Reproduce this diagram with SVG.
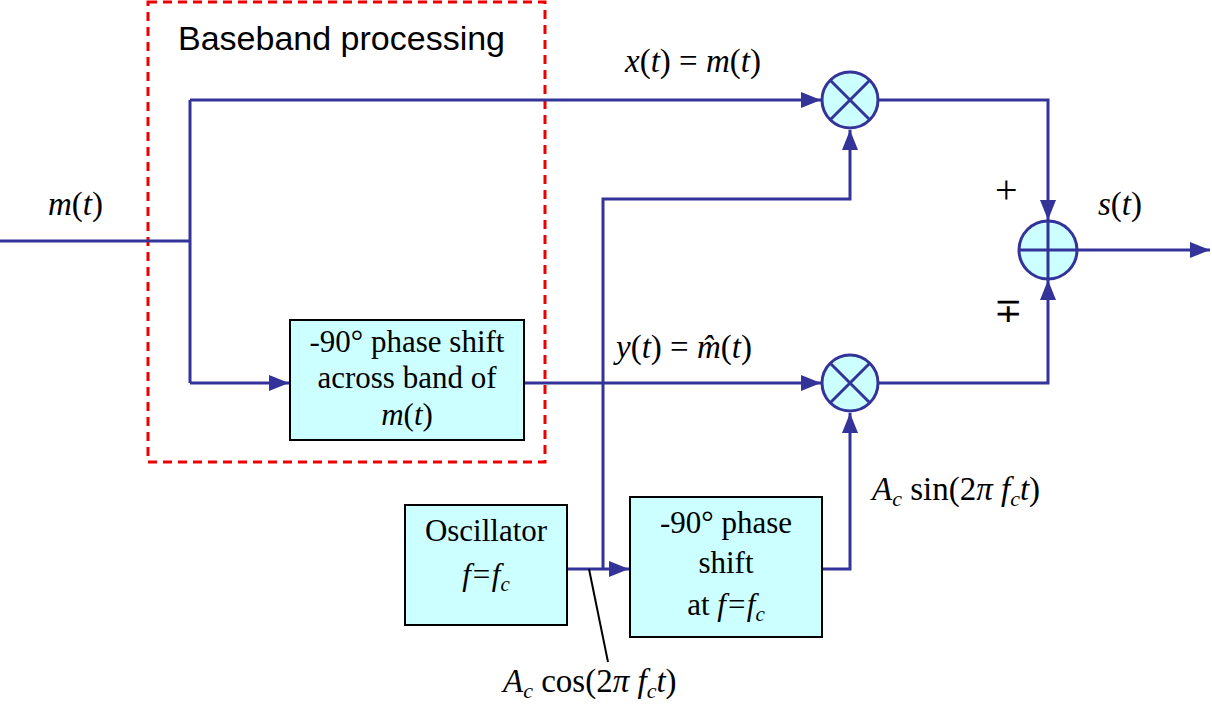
<svg xmlns="http://www.w3.org/2000/svg" width="1212" height="712" viewBox="0 0 1212 712">
<style>
.w{stroke:#333399;stroke-width:3;fill:none}
.b{fill:#ccffff;stroke:#000;stroke-width:2}
.c{fill:#ccffff;stroke:#333399;stroke-width:3}
.i{font-style:italic}
</style>
<defs>
<marker id="A" markerWidth="20" markerHeight="16" refX="20" refY="8" orient="auto" markerUnits="userSpaceOnUse"><path d="M0,0L20,8L0,16z" fill="#333399"/></marker></defs>
<rect x="148" y="2" width="397" height="460" fill="none" stroke="#e00" stroke-width="3" stroke-dasharray="9,6"/>
<text x="178" y="50" font-family="'Liberation Sans',sans-serif" font-size="34">Baseband processing</text>
<g id="connectors">
<path class="w" d="M0,241H190M190,100V383"/>
<path class="w" d="M190,100H821" marker-end="url(#A)"/>
<path class="w" d="M190,383H289" marker-end="url(#A)"/>
<path class="w" d="M524,383H821" marker-end="url(#A)"/>
<path class="w" d="M567,569H629" marker-end="url(#A)"/>
<path class="w" d="M603,569V199H850V130" marker-end="url(#A)"/>
<path class="w" d="M822,569H850V413" marker-end="url(#A)"/>
<path class="w" d="M878,100H1048V220" marker-end="url(#A)"/>
<path class="w" d="M878,383H1048V280" marker-end="url(#A)"/>
<path class="w" d="M1077,250H1210" marker-end="url(#A)"/>
<path d="M589,569L608,662" stroke="#000" stroke-width="2"/>
</g>
<g id="mult1"><circle class="c" cx="850" cy="100" r="28"/><path class="w" d="M830,80L870,120M870,80L830,120"/></g>
<g id="mult2"><circle class="c" cx="850" cy="383" r="28"/><path class="w" d="M830,363L870,403M870,363L830,403"/></g>
<g id="sum"><circle class="c" cx="1048" cy="250" r="29"/><path class="w" d="M1019,250H1077M1048,221V279"/></g>
<g font-family="'Liberation Serif','Times New Roman',serif" font-size="31" fill="#000">
<g id="phase1"><rect class="b" x="290" y="320" width="234" height="120"/>
<text x="407" y="352" text-anchor="middle">-90° phase shift</text>
<text x="407" y="388" text-anchor="middle">across band of</text>
<text x="407" y="425" text-anchor="middle"><tspan class="i">m</tspan>(<tspan class="i">t</tspan>)</text></g>
<g id="osc"><rect class="b" x="405" y="505" width="162" height="120"/>
<text x="486" y="541" text-anchor="middle">Oscillator</text>
<text class="i" x="486" y="585" text-anchor="middle">f=f<tspan font-size="21" dy="6">c</tspan></text></g>
<g id="phase2"><rect class="b" x="630" y="497" width="192" height="140"/>
<text x="726" y="533" text-anchor="middle">-90° phase</text>
<text x="726" y="573" text-anchor="middle">shift</text>
<text x="726" y="615" text-anchor="middle">at <tspan class="i">f=f</tspan><tspan class="i" font-size="21" dy="6">c</tspan></text></g>
<text x="48" y="215" font-size="33"><tspan class="i">m</tspan>(<tspan class="i">t</tspan>)</text>
<text x="625" y="72" font-size="33"><tspan class="i">x</tspan>(<tspan class="i">t</tspan>) = <tspan class="i">m</tspan>(<tspan class="i">t</tspan>)</text>
<text x="616" y="358" font-size="33"><tspan class="i">y</tspan>(<tspan class="i">t</tspan>) = <tspan class="i">m̂</tspan>(<tspan class="i">t</tspan>)</text>
<text x="1098" y="215" font-size="33"><tspan class="i">s</tspan>(<tspan class="i">t</tspan>)</text>
<text x="995" y="203" font-size="40">+</text>
<text x="994" y="322" font-size="34">∓</text>
<text x="872" y="500" font-size="33"><tspan class="i">A</tspan><tspan class="i" font-size="22" dy="6">c</tspan><tspan dy="-6"> sin(2</tspan><tspan class="i">π f</tspan><tspan class="i" font-size="22" dy="6">c</tspan><tspan class="i" dy="-6">t</tspan>)</text>
<text x="503" y="692" font-size="33"><tspan class="i">A</tspan><tspan class="i" font-size="22" dy="6">c</tspan><tspan dy="-6"> cos(2</tspan><tspan class="i">π f</tspan><tspan class="i" font-size="22" dy="6">c</tspan><tspan class="i" dy="-6">t</tspan>)</text>
</g>
</svg>
